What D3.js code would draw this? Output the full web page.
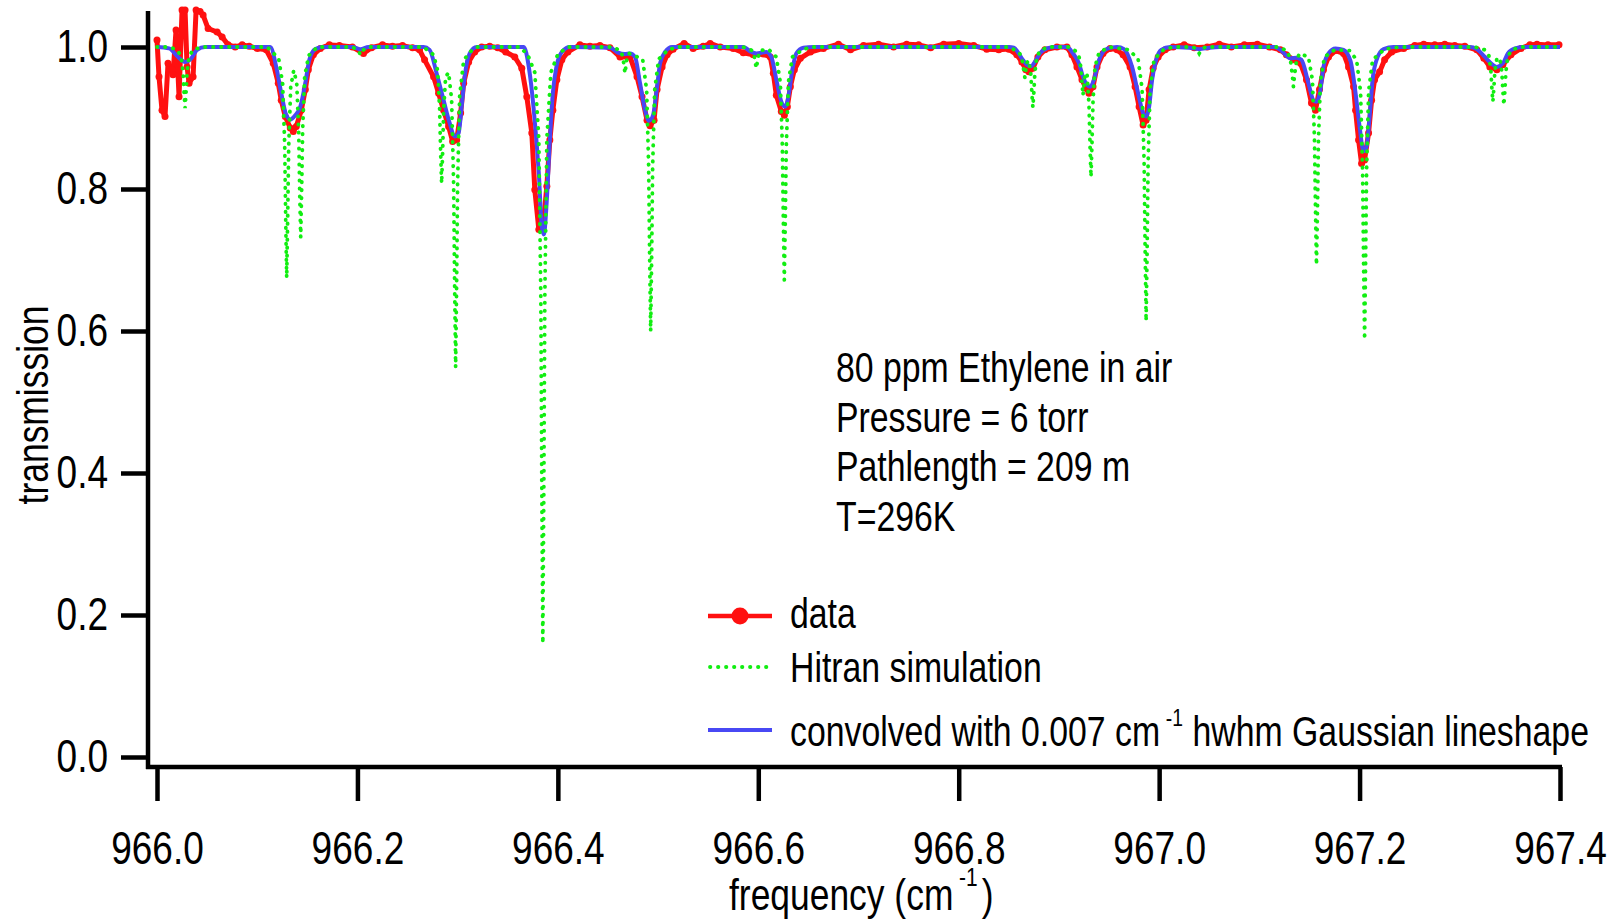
<!DOCTYPE html>
<html lang="en">
<head>
<meta charset="utf-8">
<title>Ethylene transmission spectrum</title>
<script type="text/javascript" src="https://cdn.jsdelivr.net/npm/d3@7"></script>
<style type="text/css">
	body { margin: 0; background: #fff; }
	text { font-family: "Liberation Sans", Arial, sans-serif; fill: #000; }
	.axis path { display: none; }
	.axis line { stroke: #000; stroke-width: 4.5; }
</style>
</head>
<body>
<script type="text/javascript">

	//Width and height
	var w = 1610;
	var h = 924;

	//Arial Narrow look: squeeze Liberation Sans horizontally
	var squeeze = 0.805;

	var xTicks = [966.0, 966.2, 966.4, 966.6, 966.8, 967.0, 967.2, 967.4];
	var yTicks = [0.0, 0.2, 0.4, 0.6, 0.8, 1.0];

	var infoLines = ["80 ppm Ethylene in air", "Pressure = 6 torr", "Pathlength = 209 m", "T=296K"];

	//measured transmission [frequency cm-1, transmission]
	var dataPts = [
		[966.000, 1.010], [966.002, 0.958], [966.005, 0.911], [966.008, 0.902], [966.011, 0.977],
		[966.015, 0.968], [966.016, 0.961], [966.019, 1.024], [966.022, 0.930], [966.025, 1.052],
		[966.028, 1.052], [966.030, 0.972], [966.032, 0.949], [966.036, 0.958], [966.039, 1.052],
		[966.043, 1.050], [966.046, 1.045], [966.051, 1.026], [966.060, 1.021], [966.065, 1.014],
		[966.071, 1.003], [966.078, 1.000], [966.085, 1.003], [966.092, 1.001], [966.100, 0.998],
		[966.109, 0.996], [966.116, 0.977], [966.121, 0.949], [966.124, 0.925], [966.128, 0.902],
		[966.133, 0.886], [966.136, 0.881], [966.139, 0.888], [966.144, 0.911], [966.148, 0.940],
		[966.151, 0.968], [966.156, 0.989], [966.163, 0.998], [966.172, 1.003], [966.182, 1.002],
		[966.195, 1.000], [966.206, 0.991], [966.214, 0.999], [966.225, 1.003], [966.235, 1.001],
		[966.245, 1.002], [966.255, 0.999], [966.262, 0.996], [966.267, 0.982], [966.276, 0.958],
		[966.281, 0.935], [966.286, 0.911], [966.291, 0.888], [966.295, 0.867], [966.299, 0.869],
		[966.303, 0.907], [966.306, 0.949], [966.311, 0.979], [966.317, 0.993], [966.324, 1.000],
		[966.332, 1.001], [966.340, 0.999], [966.348, 0.993], [966.357, 0.986], [966.364, 0.970],
		[966.369, 0.930], [966.374, 0.879], [966.377, 0.799], [966.381, 0.743], [966.385, 0.743],
		[966.389, 0.804], [966.392, 0.869], [966.395, 0.911], [966.399, 0.954], [966.404, 0.982],
		[966.410, 0.993], [966.422, 1.003], [966.432, 1.001], [966.442, 1.002], [966.452, 0.999],
		[966.462, 0.986], [966.472, 0.986], [966.479, 0.958], [966.484, 0.930], [966.489, 0.897],
		[966.492, 0.889], [966.496, 0.897], [966.499, 0.940], [966.504, 0.972], [966.509, 0.989],
		[966.515, 0.997], [966.526, 1.005], [966.535, 0.998], [966.545, 1.001], [966.552, 1.005],
		[966.562, 1.000], [966.575, 0.998], [966.585, 0.992], [966.595, 0.989], [966.605, 0.990],
		[966.612, 0.986], [966.615, 0.963], [966.618, 0.932], [966.623, 0.909], [966.626, 0.904],
		[966.629, 0.916], [966.632, 0.944], [966.636, 0.968], [966.642, 0.984], [966.652, 0.993],
		[966.665, 0.998], [966.680, 1.004], [966.692, 0.996], [966.705, 1.002], [966.720, 1.004],
		[966.735, 1.000], [966.748, 1.004], [966.760, 1.003], [966.772, 0.999], [966.785, 1.004],
		[966.800, 1.005], [966.815, 1.002], [966.828, 0.997], [966.840, 0.996], [966.850, 0.997],
		[966.858, 0.989], [966.863, 0.979], [966.867, 0.968], [966.870, 0.965], [966.874, 0.970],
		[966.879, 0.986], [966.886, 0.996], [966.898, 1.000], [966.908, 1.000], [966.913, 0.989],
		[966.918, 0.972], [966.923, 0.954], [966.927, 0.942], [966.930, 0.935], [966.934, 0.944],
		[966.938, 0.972], [966.944, 0.991], [966.951, 0.998], [966.958, 0.996], [966.964, 0.989],
		[966.971, 0.972], [966.976, 0.944], [966.980, 0.916], [966.984, 0.890], [966.987, 0.897],
		[966.990, 0.940], [966.994, 0.970], [966.999, 0.986], [967.006, 0.996], [967.014, 1.000],
		[967.025, 1.003], [967.035, 0.999], [967.048, 1.000], [967.060, 1.004], [967.072, 1.000],
		[967.085, 1.003], [967.098, 1.004], [967.110, 1.000], [967.121, 0.996], [967.127, 0.989],
		[967.134, 0.982], [967.141, 0.977], [967.147, 0.954], [967.152, 0.921], [967.156, 0.911],
		[967.160, 0.940], [967.164, 0.968], [967.169, 0.986], [967.176, 0.995], [967.184, 0.991],
		[967.189, 0.972], [967.194, 0.944], [967.196, 0.911], [967.199, 0.869], [967.202, 0.836],
		[967.205, 0.841], [967.209, 0.879], [967.212, 0.925], [967.215, 0.954], [967.220, 0.965],
		[967.225, 0.982], [967.232, 0.993], [967.244, 0.998], [967.255, 1.002], [967.264, 1.004],
		[967.275, 1.003], [967.285, 1.004], [967.295, 1.002], [967.305, 1.001], [967.317, 0.996],
		[967.324, 0.984], [967.330, 0.972], [967.337, 0.968], [967.343, 0.975], [967.351, 0.989],
		[967.361, 0.998], [967.370, 1.003], [967.377, 1.004], [967.388, 1.003], [967.399, 1.003]
	];

	//Hitran simulation
	var hitranPts = [
		[966.000, 1.000], [966.012, 1.000],
		[966.020, 0.996], [966.024, 0.987], [966.026, 0.964], [966.027, 0.936], [966.028, 0.914],
		[966.029, 0.936], [966.030, 0.964], [966.032, 0.987], [966.036, 0.996], [966.045, 1.000],
		[966.110, 1.000], [966.1214, 0.984], [966.1254, 0.948], [966.1274, 0.864], [966.1284, 0.759],
		[966.1294, 0.675], [966.1304, 0.759], [966.1314, 0.859], [966.1334, 0.943], [966.1364, 0.967],
		[966.1394, 0.950], [966.1414, 0.881], [966.1424, 0.796], [966.1434, 0.732], [966.1444, 0.802],
		[966.1454, 0.887], [966.1474, 0.959], [966.1514, 0.988], [966.160, 1.000],
		[966.195, 1.000], [966.201, 0.995], [966.203, 0.989], [966.205, 0.995], [966.211, 1.000],
		[966.266, 1.000], [966.276, 0.989], [966.280, 0.967], [966.282, 0.914], [966.283, 0.853],
		[966.284, 0.808], [966.285, 0.850], [966.286, 0.910], [966.288, 0.958], [966.291, 0.964],
		[966.294, 0.926], [966.296, 0.807], [966.297, 0.664], [966.298, 0.549], [966.299, 0.666],
		[966.300, 0.811], [966.302, 0.931], [966.306, 0.981], [966.312, 0.993], [966.320, 1.000],
		[966.362, 1.000], [966.370, 0.989], [966.377, 0.964], [966.381, 0.871], [966.383, 0.647],
		[966.384, 0.378], [966.385, 0.160], [966.386, 0.378], [966.387, 0.647], [966.389, 0.871],
		[966.393, 0.964], [966.400, 0.990], [966.410, 1.000],
		[966.455, 1.000], [966.463, 0.994], [966.465, 0.985], [966.467, 0.963], [966.469, 0.985],
		[966.471, 0.991], [966.4846, 0.983], [966.4886, 0.939], [966.4906, 0.832], [966.4916, 0.704],
		[966.4926, 0.600], [966.4936, 0.704], [966.4946, 0.832], [966.4966, 0.939], [966.5006, 0.983],
		[966.510, 0.996], [966.520, 1.000],
		[966.585, 1.000], [966.594, 0.995], [966.596, 0.987], [966.598, 0.970], [966.600, 0.987],
		[966.602, 0.995], [966.610, 0.997], [966.618, 0.986], [966.622, 0.950], [966.624, 0.862],
		[966.625, 0.757], [966.626, 0.672], [966.627, 0.757], [966.628, 0.862], [966.630, 0.950],
		[966.634, 0.986], [966.645, 0.997], [966.655, 1.000],
		[966.850, 1.000], [966.860, 0.993], [966.863, 0.985], [966.866, 0.957], [966.868, 0.978],
		[966.870, 0.981], [966.872, 0.961], [966.873, 0.935], [966.874, 0.915], [966.875, 0.937],
		[966.876, 0.964], [966.878, 0.987], [966.882, 0.996], [966.890, 1.000],
		[966.910, 1.000], [966.916, 0.995], [966.920, 0.987], [966.922, 0.970], [966.923, 0.950],
		[966.924, 0.932], [966.925, 0.946], [966.926, 0.962], [966.928, 0.963], [966.930, 0.919],
		[966.931, 0.863], [966.932, 0.817], [966.933, 0.865], [966.934, 0.923], [966.936, 0.972],
		[966.940, 0.992], [966.950, 1.000],
		[966.970, 0.996], [966.979, 0.983], [966.983, 0.941], [966.985, 0.838], [966.986, 0.714],
		[966.987, 0.614], [966.988, 0.714], [966.989, 0.838], [966.991, 0.941], [966.995, 0.983],
		[967.005, 0.997], [967.015, 1.000],
		[967.034, 1.000], [967.038, 0.996], [967.040, 0.991], [967.042, 0.996], [967.046, 1.000],
		[967.120, 1.000], [967.128, 0.994], [967.131, 0.982], [967.133, 0.959], [967.134, 0.944],
		[967.135, 0.959], [967.137, 0.980], [967.140, 0.991], [967.149, 0.986], [967.153, 0.953],
		[967.155, 0.871], [967.156, 0.773], [967.157, 0.693], [967.158, 0.773], [967.159, 0.871],
		[967.161, 0.953], [967.165, 0.986], [967.175, 0.996], [967.190, 0.995],
		[967.197, 0.982], [967.201, 0.937], [967.203, 0.827], [967.204, 0.695], [967.205, 0.588],
		[967.206, 0.695], [967.207, 0.827], [967.209, 0.937], [967.213, 0.982], [967.225, 0.997],
		[967.240, 1.000],
		[967.315, 1.000], [967.325, 0.996], [967.329, 0.988], [967.331, 0.967], [967.332, 0.942],
		[967.333, 0.923], [967.334, 0.942], [967.335, 0.966], [967.337, 0.984], [967.339, 0.985],
		[967.341, 0.977], [967.342, 0.964], [967.343, 0.938], [967.344, 0.918], [967.345, 0.938],
		[967.346, 0.965], [967.348, 0.987], [967.352, 0.996], [967.360, 1.000], [967.400, 1.000]
	];

	//Hitran convolved with 0.007 cm-1 hwhm gaussian
	var convPts = [
		[966.000, 1.000], [966.012, 0.998], [966.021, 0.986], [966.028, 0.979], [966.033, 0.982],
		[966.040, 0.996], [966.048, 1.000], [966.113, 1.000], [966.119, 0.972], [966.124, 0.935],
		[966.129, 0.904], [966.133, 0.898], [966.138, 0.904], [966.143, 0.916], [966.148, 0.949],
		[966.152, 0.982], [966.158, 0.997], [966.166, 1.000], [966.195, 1.000], [966.203, 0.997],
		[966.211, 1.000], [966.266, 1.000], [966.272, 0.996], [966.279, 0.963], [966.286, 0.925],
		[966.292, 0.893], [966.297, 0.874], [966.301, 0.879], [966.304, 0.916], [966.307, 0.958],
		[966.312, 0.991], [966.319, 1.000], [966.366, 1.000], [966.371, 0.972], [966.376, 0.911],
		[966.381, 0.822], [966.384, 0.747], [966.386, 0.736], [966.389, 0.785], [966.392, 0.869],
		[966.395, 0.935], [966.399, 0.975], [966.404, 0.993], [966.412, 1.000], [966.452, 0.999],
		[966.460, 0.992], [966.467, 0.990], [966.472, 0.991], [966.477, 0.986], [966.482, 0.949],
		[966.487, 0.911], [966.491, 0.896], [966.495, 0.904], [966.499, 0.944], [966.502, 0.977],
		[966.507, 0.993], [966.514, 1.000], [966.585, 1.000], [966.593, 0.993], [966.598, 0.991],
		[966.608, 0.993], [966.613, 0.986], [966.618, 0.954], [966.623, 0.923], [966.627, 0.916],
		[966.630, 0.930], [966.634, 0.968], [966.638, 0.991], [966.645, 0.999], [966.655, 1.000],
		[966.850, 1.000], [966.855, 0.999], [966.863, 0.984], [966.868, 0.975], [966.872, 0.973],
		[966.876, 0.979], [966.881, 0.991], [966.888, 0.998], [966.896, 1.000], [966.908, 1.000],
		[966.914, 0.991], [966.920, 0.977], [966.924, 0.958], [966.931, 0.944], [966.935, 0.954],
		[966.939, 0.977], [966.944, 0.993], [966.949, 0.998], [966.958, 1.000], [966.965, 0.997],
		[966.973, 0.972], [966.979, 0.935], [966.984, 0.907], [966.987, 0.902], [966.990, 0.916],
		[966.993, 0.954], [966.997, 0.982], [967.002, 0.996], [967.011, 1.000], [967.030, 0.999],
		[967.040, 0.997], [967.050, 0.999], [967.060, 1.000], [967.115, 1.000], [967.121, 0.996],
		[967.131, 0.984], [967.137, 0.985], [967.142, 0.982], [967.149, 0.949], [967.154, 0.925],
		[967.157, 0.923], [967.161, 0.940], [967.164, 0.972], [967.169, 0.991], [967.176, 0.998],
		[967.184, 0.996], [967.191, 0.980], [967.196, 0.935], [967.200, 0.888], [967.204, 0.853],
		[967.207, 0.860], [967.210, 0.902], [967.213, 0.954], [967.217, 0.982], [967.224, 0.997],
		[967.234, 1.000], [967.310, 1.000], [967.317, 0.997], [967.325, 0.986], [967.332, 0.976],
		[967.337, 0.972], [967.343, 0.977], [967.348, 0.991], [967.355, 0.998], [967.365, 1.000],
		[967.400, 1.000]
	];

	var red = "#ff1010";
	var green = "#11ee11";
	var blue = "#4848f4";

	var xScale = d3.scaleLinear()
					.domain([966.0, 967.4])
					.range([157, 1560]);

	var yScale = d3.scaleLinear()
					.domain([0, 1])
					.range([757, 47]);

	//Create SVG element
	var svg = d3.select("body")
				.append("svg")
				.attr("width", w)
				.attr("height", h);

	svg.append("rect").attr("width", w).attr("height", h).attr("fill", "#fff");

	//Axes
	var xAxis = d3.axisBottom(xScale)
				  .tickValues(xTicks)
				  .tickFormat(d3.format(".1f"))
				  .tickSize(34)
				  .tickPadding(30);

	var yAxis = d3.axisLeft(yScale)
				  .tickValues(yTicks)
				  .tickFormat(d3.format(".1f"))
				  .tickSize(27)
				  .tickPadding(13);

	svg.append("g")
	   .attr("class", "axis")
	   .attr("transform", "translate(0,767)")
	   .call(xAxis);

	svg.append("g")
	   .attr("class", "axis")
	   .attr("transform", "translate(148,0)")
	   .call(yAxis);

	svg.selectAll(".axis g text")
	   .attr("font-size", "46px")
	   .attr("font-family", null)
	   .attr("fill", "#000");

	//Frame lines
	svg.append("line")
	   .attr("x1", 148).attr("y1", 11)
	   .attr("x2", 148).attr("y2", 769)
	   .attr("stroke", "#000").attr("stroke-width", 4.5);

	svg.append("line")
	   .attr("x1", 146).attr("y1", 767)
	   .attr("x2", xScale(967.4) + 2).attr("y2", 767)
	   .attr("stroke", "#000").attr("stroke-width", 4.5);

	//Lines
	var line = d3.line()
				 .x(function(d) { return xScale(d[0]); })
				 .y(function(d) { return yScale(d[1]); });

	var smoothLine = d3.line()
				 .curve(d3.curveMonotoneX)
				 .x(function(d) { return xScale(d[0]); })
				 .y(function(d) { return yScale(d[1]); });

	svg.append("path")
	   .attr("d", line(dataPts))
	   .attr("fill", "none")
	   .attr("stroke", red)
	   .attr("stroke-width", 5)
	   .attr("stroke-linejoin", "round");

	svg.selectAll("circle.data")
	   .data(dataPts)
	   .enter()
	   .append("circle")
	   .attr("class", "data")
	   .attr("cx", function(d) { return xScale(d[0]); })
	   .attr("cy", function(d) { return yScale(d[1]); })
	   .attr("r", 3.5)
	   .attr("fill", red);

	svg.append("path")
	   .attr("d", smoothLine(convPts))
	   .attr("fill", "none")
	   .attr("stroke", blue)
	   .attr("stroke-width", 4);

	svg.append("path")
	   .attr("d", line(hitranPts))
	   .attr("fill", "none")
	   .attr("stroke", green)
	   .attr("stroke-width", 3.8)
	   .attr("stroke-linecap", "round")
	   .attr("stroke-dasharray", "0.4 7.6");

	//Info text
	svg.selectAll("text.info")
	   .data(infoLines)
	   .enter()
	   .append("text")
	   .attr("class", "info")
	   .attr("x", 836)
	   .attr("y", function(d, i) { return 382 + i * 49.6; })
	   .attr("font-size", "42px")
	   .text(function(d) { return d; });

	//Legend
	var leg = svg.append("g");

	leg.append("line")
	   .attr("x1", 708).attr("x2", 772).attr("y1", 616).attr("y2", 616)
	   .attr("stroke", red).attr("stroke-width", 4.5);
	leg.append("circle")
	   .attr("cx", 740).attr("cy", 616).attr("r", 8.5)
	   .attr("fill", red);
	leg.append("text")
	   .attr("x", 790).attr("y", 628)
	   .attr("font-size", "42px")
	   .text("data");

	leg.append("line")
	   .attr("x1", 710).attr("x2", 772).attr("y1", 667).attr("y2", 667)
	   .attr("stroke", green).attr("stroke-width", 3.8)
	   .attr("stroke-linecap", "round")
	   .attr("stroke-dasharray", "0.4 7.6");
	leg.append("text")
	   .attr("x", 790).attr("y", 682)
	   .attr("font-size", "42px")
	   .text("Hitran simulation");

	leg.append("line")
	   .attr("x1", 708).attr("x2", 772).attr("y1", 730).attr("y2", 730)
	   .attr("stroke", blue).attr("stroke-width", 4);
	var convText = leg.append("text")
	   .attr("x", 790).attr("y", 746)
	   .attr("font-size", "42px");
	convText.append("tspan").text("convolved with 0.007 cm");
	convText.append("tspan").attr("dx", 7).attr("dy", -20).attr("font-size", "24px").text("-1");
	convText.append("tspan").attr("dx", 12).attr("dy", 20).attr("font-size", "42px").text("hwhm Gaussian lineshape");

	//Axis titles
	svg.append("text")
	   .attr("class", "rot")
	   .attr("transform", "translate(48,405) rotate(-90)")
	   .attr("text-anchor", "middle")
	   .attr("font-size", "44px")
	   .text("transmission");

	var xTitle = svg.append("text")
	   .attr("x", 729).attr("y", 910)
	   .attr("font-size", "44px");
	xTitle.append("tspan").text("frequency (cm");
	xTitle.append("tspan").attr("dx", 7).attr("dy", -24).attr("font-size", "26px").text("-1");
	xTitle.append("tspan").attr("dx", 5).attr("dy", 24).attr("font-size", "44px").text(")");

	//Squeeze every text horizontally about its own x position
	svg.selectAll("text").each(function() {
		var t = d3.select(this);
		var tf = t.attr("transform") || "";
		if (t.classed("rot")) {
			t.attr("transform", tf + " scale(" + squeeze + ",1)");
			return;
		}
		var x0 = +t.attr("x") || 0;
		t.attr("x", x0 / squeeze)
		 .attr("transform", tf + " scale(" + squeeze + ",1)");
	});

</script>
</body>
</html>
